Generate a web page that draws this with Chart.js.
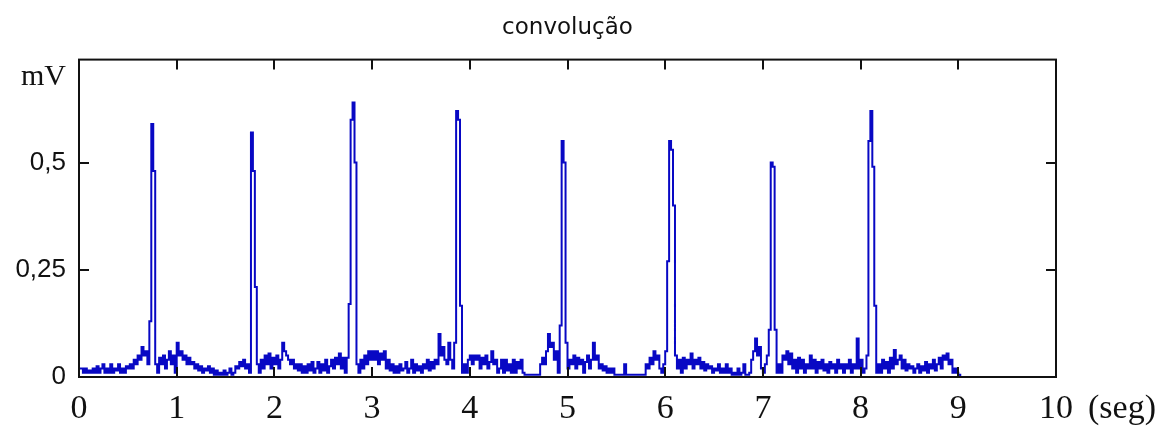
<!DOCTYPE html>
<html>
<head>
<meta charset="utf-8">
<script src="https://cdn.jsdelivr.net/npm/chart.js@4.4.1/dist/chart.umd.min.js"></script>
<style>
html, body { margin: 0; padding: 0; background: #ffffff; }
canvas { display: block; }
</style>
</head>
<body>
<canvas id="chart" width="1168" height="430"></canvas>
<script>
// ---- data ----
const chartTitle = 'convolução';
const SAMPLE_STEP = 0.02; // seconds between samples

const head = [0.09];
const sec0 = [0.02,0.02,0.01,0.02,0.01,0.015,0.01,0.02,0.01,0.025,
              0.01,0.02,0.03,0.01,0.02,0.01,0.03,0.01,0.02,0.015,
              0.03,0.01,0.02,0.01,0.025,0.02,0.03,0.02,0.04,0.03,
              0.05,0.04,0.07,0.05,0.06,0.03,0.13,0.59,0.48,0.03,
              0.01,0.045,0.03,0.05,0.02,0.04,0.06,0.03,0.05,0.01];
const sec1 = [0.08,0.05,0.06,0.04,0.05,0.03,0.045,0.03,0.035,0.02,
              0.03,0.015,0.025,0.01,0.02,0.015,0.025,0.01,0.02,0.005,
              0.015,0.005,0.01,0.005,0.015,0.005,0.01,0.02,0.005,0.01,
              0.025,0.02,0.035,0.025,0.04,0.02,0.03,0.01,0.57,0.48,
              0.21,0.03,0.01,0.04,0.02,0.05,0.03,0.055,0.02,0.045];
const sec2 = [0.03,0.05,0.02,0.04,0.08,0.06,0.05,0.04,0.03,0.04,
              0.02,0.03,0.015,0.03,0.01,0.025,0.01,0.03,0.015,0.035,
              0.01,0.02,0.035,0.01,0.03,0.015,0.04,0.01,0.025,0.04,
              0.02,0.045,0.03,0.055,0.02,0.045,0.01,0.045,0.17,0.60,
              0.64,0.50,0.03,0.01,0.04,0.02,0.05,0.03,0.06,0.04];
const sec3 = [0.06,0.04,0.06,0.03,0.055,0.04,0.06,0.02,0.04,0.015,
              0.03,0.01,0.025,0.01,0.03,0.015,0.02,0.035,0.01,0.02,
              0.04,0.01,0.03,0.015,0.025,0.01,0.03,0.02,0.04,0.015,
              0.035,0.02,0.04,0.03,0.10,0.05,0.07,0.04,0.03,0.08,
              0.04,0.02,0.08,0.62,0.60,0.166,0.01,0.03,0.01,0.04];
const sec4 = [0.05,0.03,0.05,0.04,0.05,0.02,0.045,0.03,0.05,0.02,
              0.035,0.06,0.03,0.04,0.01,0.02,0.04,0.01,0.04,0.015,
              0.03,0.01,0.04,0.01,0.035,0.02,0.04,0.01,0.005,0.005,
              0.005,0.005,0.005,0.005,0.005,0.005,0.03,0.045,0.03,0.06,
              0.10,0.07,0.08,0.04,0.06,0.01,0.12,0.55,0.50,0.08];
const sec5 = [0.02,0.04,0.03,0.05,0.02,0.045,0.03,0.04,0.01,0.035,
              0.05,0.02,0.04,0.08,0.04,0.05,0.02,0.03,0.015,0.025,
              0.01,0.02,0.01,0.02,0.005,0.005,0.005,0.005,0.005,0.03,
              0.005,0.005,0.005,0.005,0.005,0.005,0.005,0.005,0.005,0.005,
              0.03,0.02,0.045,0.03,0.06,0.04,0.05,0.02,0.01,0.03];
const sec6 = [0.06,0.27,0.55,0.53,0.40,0.05,0.02,0.04,0.01,0.045,
              0.02,0.04,0.03,0.055,0.02,0.04,0.03,0.045,0.02,0.035,
              0.015,0.03,0.02,0.025,0.01,0.02,0.015,0.03,0.01,0.02,
              0.01,0.03,0.01,0.02,0.005,0.01,0.005,0.02,0.005,0.01,
              0.03,0.005,0.005,0.01,0.04,0.06,0.09,0.05,0.07,0.02];
const sec7 = [0.01,0.03,0.05,0.11,0.50,0.49,0.11,0.01,0.03,0.01,
              0.05,0.04,0.06,0.03,0.055,0.02,0.04,0.01,0.045,0.02,
              0.04,0.01,0.03,0.02,0.05,0.02,0.04,0.01,0.035,0.02,
              0.04,0.015,0.03,0.01,0.035,0.02,0.03,0.01,0.04,0.02,
              0.03,0.01,0.03,0.02,0.04,0.01,0.03,0.02,0.09,0.02];
const sec8 = [0.04,0.01,0.02,0.05,0.55,0.62,0.49,0.166,0.01,0.03,
              0.01,0.04,0.02,0.035,0.01,0.045,0.02,0.063,0.03,0.04,
              0.05,0.02,0.04,0.015,0.03,0.02,0.025,0.01,0.02,0.03,
              0.01,0.025,0.015,0.035,0.01,0.03,0.02,0.04,0.015,0.03,
              0.045,0.02,0.05,0.04,0.055,0.03,0.04,0.01,0.02,0.01];
const tail = [0.005, 0];

const xTickValues = [0,1,2,3,4,5,6,7,8,9,10];
const xTickLabels = ['0','1','2','3','4','5','6','7','8','9','10'];
const xUnit = '(seg)';
const xMin = 0, xMax = 10;

const yTickValues = [0, 0.25, 0.5];
const yTickLabels = ['0', '0,25', '0,5'];
const yUnit = 'mV';
const yUnitValue = 0.70;
const yMin = 0, yMax = 0.74;

// ---- build series ----
const signal = [].concat(head, sec0, sec1, sec2, sec3, sec4, sec5, sec6, sec7, sec8, tail);
const points = signal.map((v, i) => ({ x: +(i * SAMPLE_STEP).toFixed(2), y: v }));

const X_FONT = { family: '"Liberation Serif", "Times New Roman", serif', size: 34 };
const X_PAD = 12;

const framePlugin = {
  id: 'frame',
  afterDatasetsDraw(chart) {
    const { ctx, chartArea: a, scales } = chart;
    const xs = scales.x, ys = scales.y;
    ctx.save();
    ctx.strokeStyle = '#111111';
    ctx.lineWidth = 2;
    ctx.strokeRect(a.left, a.top, a.right - a.left, a.bottom - a.top);
    const tl = 10;
    ctx.beginPath();
    xTickValues.forEach(v => {
      if (v === xMin || v === xMax) return;
      const px = Math.round(xs.getPixelForValue(v));
      ctx.moveTo(px, a.bottom); ctx.lineTo(px, a.bottom - tl);
      ctx.moveTo(px, a.top); ctx.lineTo(px, a.top + tl);
    });
    yTickValues.forEach(v => {
      if (v === yMin) return;
      const py = Math.round(ys.getPixelForValue(v));
      ctx.moveTo(a.left, py); ctx.lineTo(a.left + tl, py);
      ctx.moveTo(a.right, py); ctx.lineTo(a.right - tl, py);
    });
    ctx.stroke();
    // unit label for the x axis, next to the last tick label
    ctx.fillStyle = '#111111';
    ctx.font = X_FONT.size + 'px ' + X_FONT.family;
    ctx.textAlign = 'left';
    ctx.textBaseline = 'middle';
    const ly = xs.top + X_PAD + X_FONT.size * 1.2 / 2;
    ctx.fillText(xUnit, xs.getPixelForValue(xMax) + 32, ly);
    ctx.restore();
  }
};

new Chart(document.getElementById('chart'), {
  type: 'line',
  data: {
    datasets: [{
      data: points,
      borderColor: '#0808c4',
      borderWidth: 2,
      pointRadius: 0,
      stepped: 'after',
      fill: false,
      tension: 0
    }]
  },
  options: {
    responsive: false,
    animation: false,
    events: [],
    layout: { padding: { left: 0, right: 112, top: 0, bottom: 0 } },
    plugins: {
      legend: { display: false },
      tooltip: { enabled: false },
      title: {
        display: true,
        text: chartTitle,
        fullSize: false,
        color: '#111111',
        font: { family: '"DejaVu Sans", sans-serif', size: 23, weight: 'normal' },
        padding: { top: 14, bottom: 18 }
      }
    },
    scales: {
      x: {
        type: 'linear',
        min: xMin, max: xMax,
        grid: { display: false, drawTicks: false },
        border: { display: false },
        afterBuildTicks: s => { s.ticks = xTickValues.map(v => ({ value: v })); },
        afterFit: s => { s.height = 53; },
        ticks: {
          autoSkip: false, maxRotation: 0, padding: X_PAD,
          color: '#111111', font: X_FONT,
          callback: v => { const i = xTickValues.indexOf(v); return i >= 0 ? xTickLabels[i] : ''; }
        }
      },
      y: {
        type: 'linear',
        min: yMin, max: yMax,
        grid: { display: false, drawTicks: false },
        border: { display: false },
        afterBuildTicks: s => { s.ticks = yTickValues.map(v => ({ value: v })).concat([{ value: yUnitValue }]); },
        afterFit: s => { s.width = 79; },
        ticks: {
          autoSkip: false, padding: 13, color: '#111111',
          font: c => (c.tick && c.tick.value === yUnitValue)
            ? { family: '"Liberation Serif", serif', size: 30 }
            : { family: '"Liberation Sans", Arial, sans-serif', size: 26 },
          callback: v => v === yUnitValue ? yUnit : yTickLabels[yTickValues.indexOf(v)]
        }
      }
    }
  },
  plugins: [framePlugin]
});
</script>
</body>
</html>
